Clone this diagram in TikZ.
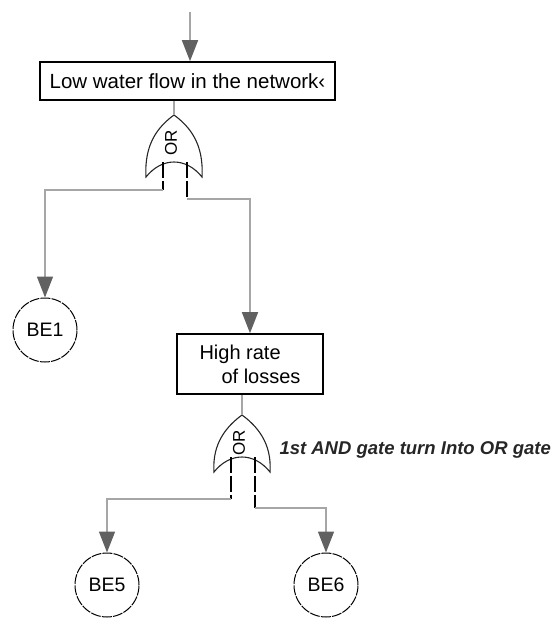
\documentclass[tikz,border=0pt]{standalone}
\usepackage{fontspec}
\setmainfont{Liberation Sans}
\usetikzlibrary{arrows.meta}

% OR gate: name, x, tip y, height, stub length
\newcommand{\orgate}[5]{%
  \coordinate(#1)at(#2,#3);
  \coordinate(#1l)at(#2-11,#3+#5);
  \coordinate(#1r)at(#2+13,#3+#5+9);
  \draw[gateline](#2-28,#3+#4) .. controls (#2-30,#3+28) and (#2-15,#3+11) .. (#2,#3)
     .. controls (#2+15,#3+11) and (#2+30,#3+28) .. (#2+28,#3+#4)
     .. controls (#2+12,#3+#4-20) and (#2-12,#3+#4-20) .. cycle;
  \node[rotate=90,font=\fontsize{17}{17}\selectfont]at(#2-3,#3+28){OR};
  \draw[stub](#2-11,#3+#4-15)--(#1l);
  \draw[stub](#2+13,#3+#4-15)--(#1r);
}

\begin{document}
\begin{tikzpicture}[x=1pt,y=-1pt]
    \tikzstyle{event}=[draw,line width=1.6pt,inner sep=0pt,font=\fontsize{20.5}{24}\selectfont]
    \tikzstyle{basic}=[draw,circle,dash pattern=on 10pt off 1.2pt,line width=1pt,minimum size=64pt,inner sep=0pt,font=\fontsize{19.5}{19.5}\selectfont]
    \tikzstyle{conn}=[draw=gray!70,line width=1.6pt,-{Triangle[length=21pt,width=16pt,color=black!62]}]
    \tikzstyle{gateline}=[draw=black!85,line width=1.1pt]
    \tikzstyle{stub}=[draw=black,line width=1.8pt,dash pattern=on 16pt off 3pt]
    \useasboundingbox(0,0)rectangle(555,619);
    \draw node[event,minimum width=295pt,minimum height=38pt](low)at(187.5,81){Low water flow in the network‹}
          node[event,minimum width=146pt,minimum height=60pt,align=left,font=\fontsize{20}{24}\selectfont](high)at(250,364){High rate\\\hspace*{22pt}of losses}
          node[basic](BE1)at(45,330){BE1}
          node[basic](BE5)at(107,585){BE5}
          node[basic](BE6)at(326,585){BE6};
    \node[anchor=west,font=\bfseries\itshape\fontsize{18.5}{18.5}\selectfont,text=black!85](note)at(276,450){1st AND gate turn Into OR gate};
    \coordinate(in)at(190,12);
    \orgate{g1}{174}{115}{62}{75}
    \orgate{g2}{242}{415}{57}{84}
    \draw[conn](in)--(in|-low.north);
    \draw[draw=gray!70,line width=1.2pt](low.south-|g1)--(g1);
    \draw[conn](g1l)-|(BE1.north);
    \draw[conn](g1r)-|(high.north);
    \draw[draw=gray!70,line width=1.2pt](high.south-|g2)--(g2);
    \draw[conn](g2l)-|(BE5.north);
    \draw[conn](g2r)-|(BE6.north);
\end{tikzpicture}
\end{document}
